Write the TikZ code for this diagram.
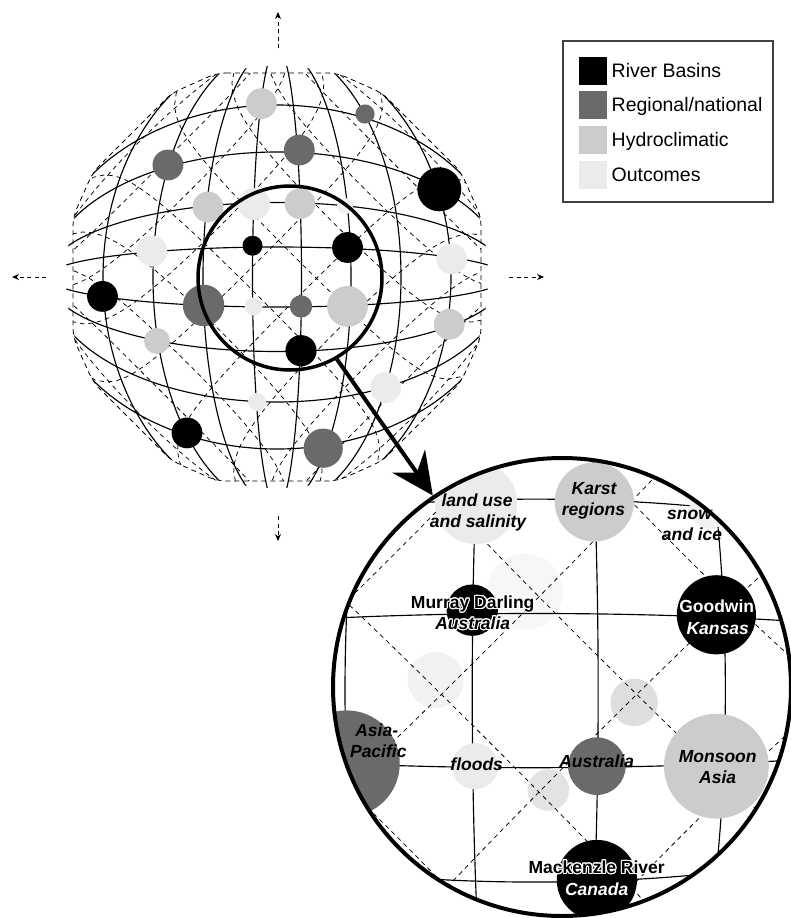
\documentclass[tikz,border=0pt]{standalone}
\usepackage{fontspec}
\setmainfont{Liberation Sans}
\usepackage{contour}
\contourlength{1.1pt}
\usetikzlibrary{arrows.meta}

\definecolor{basin}{HTML}{000000}
\definecolor{regional}{HTML}{6A6A6A}
\definecolor{hydro}{HTML}{CCCCCC}
\definecolor{outcome}{HTML}{EBEBEB}

\tikzset{
  gridline/.style={line width=1.15pt, black},
  diagline/.style={line width=0.75pt, black, dash pattern=on 4.5pt off 4pt},
  rimline/.style={line width=0.8pt, black, dash pattern=on 5pt off 4pt, rounded corners=9pt},
  axisarrow/.style={line width=0.9pt, dash pattern=on 4pt off 3.5pt, -{Stealth[length=7pt,width=6pt]}},
  bigarrow/.style={line width=4pt, -{Stealth[length=42pt,width=40pt,inset=14pt]}},
  legsq/.style={minimum size=28pt, inner sep=0pt},
  legtext/.style={font=\fontsize{19.5}{22}\selectfont, anchor=base west, inner sep=0pt},
  lbl/.style={font=\fontsize{17.5}{20}\selectfont\bfseries, anchor=base, inner sep=0pt},
  ilbl/.style={lbl, font=\fontsize{17.5}{20}\selectfont\bfseries\itshape},
}

% outer rim of the diagonal lattice
\newcommand\rimpath{(217,73) -- (337,73) -- (382,93) -- (461,172) -- (481,217) -- (481,337)
  -- (461,382) -- (382,461) -- (337,481) -- (217,481) -- (172,461) -- (93,382)
  -- (73,337) -- (73,217) -- (93,172) -- (172,93) -- cycle}

% solid graticule and dashed diagonal lattice of the globe
\newcommand\drawglobelines{%
  \begin{scope}
    \clip (277,277) circle (211);
    \foreach \a in {24.5,74,124,174}
      \draw[gridline] (277,277) ellipse [x radius=\a, y radius=230];
    \foreach \b in {30,74.5,125,172}
      \draw[gridline] (277,277) ellipse [x radius=230, y radius=\b];
  \end{scope}
  \begin{scope}
    \clip \rimpath;
    \foreach \c in {-342,-266,-190,-114,-38,38,114,190,266,342}{
      \pgfmathsetmacro\lsum{(\c+3)/230}
      \pgfmathsetmacro\tlo{max(-0.99,\lsum-0.99)}
      \pgfmathsetmacro\thi{min(0.99,\lsum+0.99)}
      \draw[diagline] plot[domain=\tlo:\thi, samples=36, variable=\t]
        ({277+230*gx(\t,\lsum-\t)}, {277+230*gy(\t,\lsum-\t)});
      \pgfmathsetmacro\ldiff{\c/230}
      \pgfmathsetmacro\tlo{max(-0.99,\ldiff-0.99)}
      \pgfmathsetmacro\thi{min(0.99,\ldiff+0.99)}
      \draw[diagline] plot[domain=\tlo:\thi, samples=36, variable=\t]
        ({277+230*gx(\t,\t-\ldiff)}, {277+230*gy(\t,\t-\ldiff)});
    }
  \end{scope}}

% the data points on the globe
\newcommand\drawglobedots{%
  \fill[hydro]    (261.4,103.6) circle (15.4);
  \fill[regional] (365,114)     circle (9.6);
  \fill[regional] (299.3,150)   circle (15.4);
  \fill[regional] (167.9,165)   circle (15.4);
  \fill[basin]    (439.3,189.3) circle (22);
  \fill[hydro]    (207.9,207)   circle (15.4);
  \fill[outcome]  (254,204)     circle (16);
  \fill[hydro]    (300,203.6)   circle (15.4);
  \fill[outcome!70!white] (345,206) circle (8);
  \fill[outcome]  (151.8,251)   circle (15.4);
  \fill[basin]    (252.5,245.7) circle (10);
  \fill[basin]    (347.5,247.5) circle (15.4);
  \fill[outcome]  (451.8,259)   circle (15.4);
  \fill[basin]    (102.5,296.4) circle (15.4);
  \fill[regional] (203.6,305.4) circle (20.7);
  \fill[outcome]  (253.6,306.4) circle (9);
  \fill[regional] (301,306.4)   circle (11.2);
  \fill[hydro]    (347.5,306.4) circle (20.4);
  \fill[hydro]    (449.3,324.3) circle (15.4);
  \fill[hydro]    (157,341)     circle (13);
  \fill[basin]    (301,350.7)   circle (15.6);
  \fill[outcome]  (385.7,387.5) circle (15.4);
  \fill[outcome]  (257,401.8)   circle (9);
  \fill[basin]    (187,432.9)   circle (15.4);
  \fill[regional] (323.2,448.2) circle (19.6);
}

\begin{document}
\begin{tikzpicture}[x=1pt, y=-1pt,
  declare function={
    sq(\z)=\z*\z;
    py1(\u,\v)=\v*sqrt(1-sq(\u));
    px1(\u,\v)=\u*sqrt(1-sq(py1(\u,\v)));
    py2(\u,\v)=\v*sqrt(1-sq(px1(\u,\v)));
    px2(\u,\v)=\u*sqrt(1-sq(py2(\u,\v)));
    py3(\u,\v)=\v*sqrt(1-sq(px2(\u,\v)));
    px3(\u,\v)=\u*sqrt(1-sq(py3(\u,\v)));
    py4(\u,\v)=\v*sqrt(1-sq(px3(\u,\v)));
    px4(\u,\v)=\u*sqrt(1-sq(py4(\u,\v)));
    py5(\u,\v)=\v*sqrt(1-sq(px4(\u,\v)));
    gx(\u,\v)=\u*sqrt(1-sq(py5(\u,\v)));
    gy(\u,\v)=\v*sqrt(1-sq(gx(\u,\v)));
  }]
\useasboundingbox (0,0) rectangle (791,918);

% ---- globe ----
\drawglobelines
\draw[rimline] \rimpath;
\drawglobedots

% axis arrows around the globe
\coordinate (nfrom) at (278,48);  \coordinate (nto) at (278,12);
\coordinate (sfrom) at (278,516); \coordinate (sto) at (278,541);
\coordinate (wfrom) at (46,277);  \coordinate (wto) at (12,277);
\coordinate (efrom) at (509,277); \coordinate (eto) at (544,277);
\draw[axisarrow] (nfrom) -- (nto);
\draw[axisarrow] (sfrom) -- (sto);
\draw[axisarrow] (wfrom) -- (wto);
\draw[axisarrow] (efrom) -- (eto);

% lens over the centre of the globe
\node[circle, draw, line width=3.5pt, minimum size=184pt, inner sep=0pt] (lens) at (290,278) {};

% ---- enlarged view ----
\begin{scope}[shift={(-176.7,-21.3)}, scale=2.57]
  \clip (287.4,275.6) circle (89.1);
  \fill[black!3]  (273.0,238.6) circle (14.8);
  \fill[black!5]  (238.3,272.9) circle (10.9);
  \fill[black!13] (315.5,281.6) circle (9.2);
  \fill[black!11] (282.1,315.7) circle (8.1);
  \drawglobelines
  \drawglobedots
\end{scope}
\node[circle, draw, line width=4pt, minimum size=458pt, inner sep=0pt] (zoomview) at (562,687) {};
\draw[bigarrow] (lens.-60) -- (zoomview.124);

% labels of the enlarged view
\node[ilbl] (l1a) at (477,506) {land use};
\node[ilbl] (l1b) at (478,527.3) {and salinity};
\node[ilbl] (l2a) at (594,494) {Karst};
\node[ilbl] (l2b) at (593.5,515) {regions};
\node[ilbl] (l3a) at (689.5,519) {snow};
\node[ilbl] (l3b) at (692,540.7) {and ice};
\node[lbl]  (l4a) at (472.7,608.3) {\contour{white}{Murray Darling}};
\node[ilbl] (l4b) at (472.7,629.3) {\contour{white}{Australia}};
\node[lbl, text=white]  (l5a) at (716.7,612.7) {\contour{black}{Goodwin}};
\node[ilbl, text=white] (l5b) at (717.7,634.3) {\contour{black}{Kansas}};
\node[ilbl] (l6a) at (376.7,736.7) {Asia-};
\node[ilbl] (l6b) at (378.3,757.3) {Pacific};
\node[ilbl] (l7)  at (476.7,770.7) {floods};
\node[ilbl] (l8)  at (596.7,767.7) {Australia};
\node[ilbl] (l9a) at (717.7,762.3) {Monsoon};
\node[ilbl] (l9b) at (717.7,783.3) {Asia};
\node[lbl]  (l10a) at (596.7,873.3) {\contour{white}{Mackenzle River}};
\node[ilbl, text=white] (l10b) at (596.7,895) {\contour{black}{Canada}};

% ---- legend ----
\node[draw=black!75, line width=1.2pt, minimum width=210pt, minimum height=161pt, inner sep=0pt] (legend) at (668,121.5) {};
\node[legsq, fill=basin]    (k1) at (593,71)  {};
\node[legsq, fill=regional] (k2) at (593,105) {};
\node[legsq, fill=hydro]    (k3) at (593,140) {};
\node[legsq, fill=outcome]  (k4) at (593,175) {};
\node[legtext] (t1) at (611.5,77.7)  {River Basins};
\node[legtext] (t2) at (611.5,111.7) {Regional/national};
\node[legtext] (t3) at (611.5,146.7) {Hydroclimatic};
\node[legtext] (t4) at (611.5,181.7) {Outcomes};
\end{tikzpicture}
\end{document}
